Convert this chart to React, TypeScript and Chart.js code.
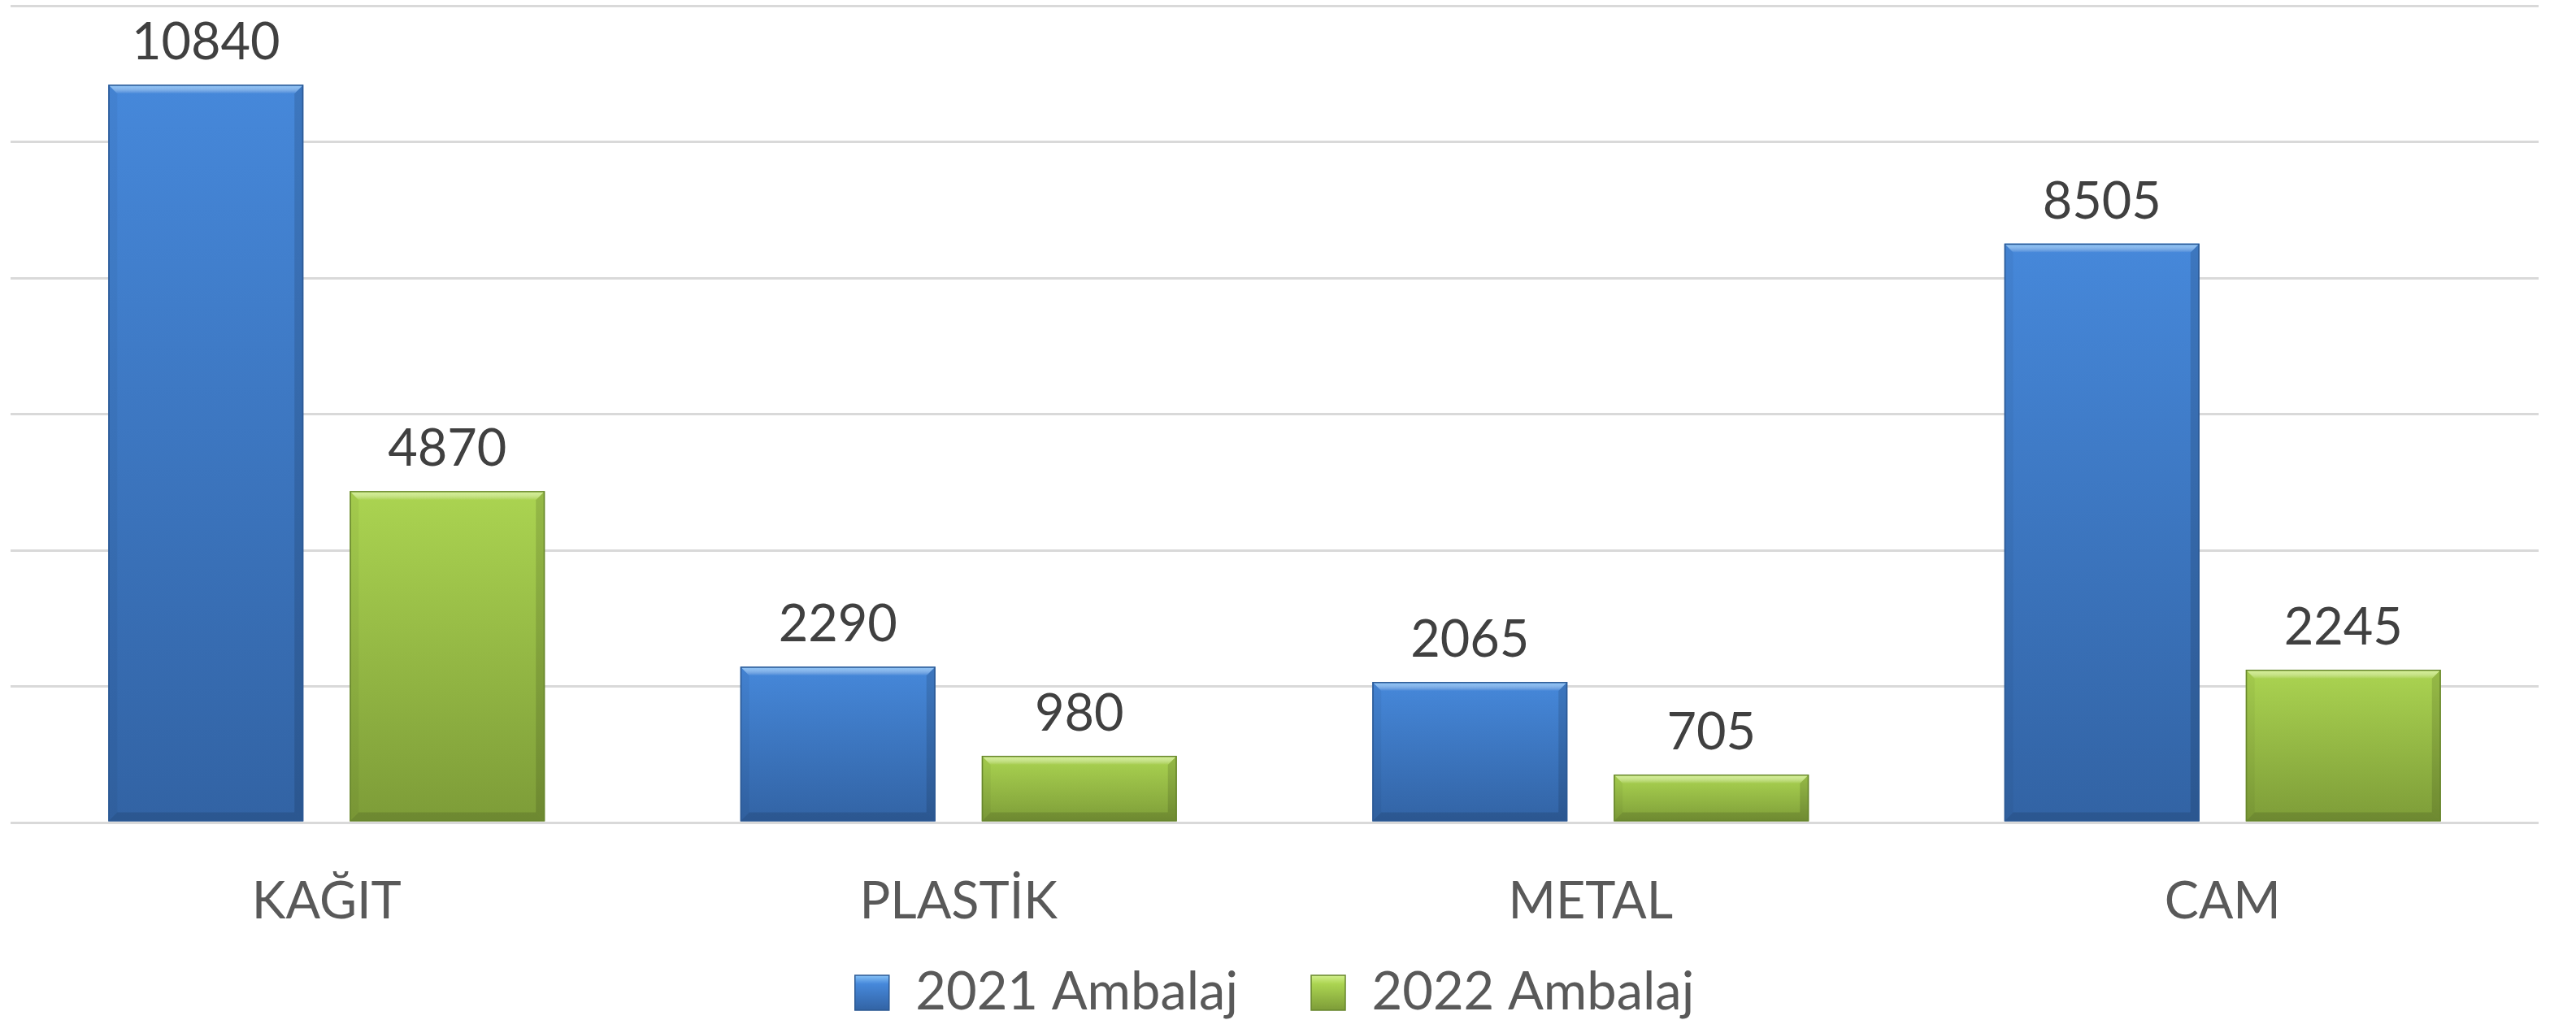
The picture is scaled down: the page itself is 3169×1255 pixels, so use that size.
import React, { useEffect, useRef } from 'react';
import { Chart, registerables } from 'chart.js';

Chart.register(...registerables);

const categories = ['KAĞIT', 'PLASTİK', 'METAL', 'CAM'];
const series2021 = [10840, 2290, 2065, 8505];
const series2022 = [4870, 980, 705, 2245];
const seriesLabels = ['2021 Ambalaj', '2022 Ambalaj'];
const yTicks = [0, 2000, 4000, 6000, 8000, 10000, 12000];

const palettes = [
  { top: '#4688da', bottom: '#3263a4', light: '#86c2f7', edge: '#2b5893', solid: '#3d78c4' },
  { top: '#abd451', bottom: '#7d9c38', light: '#d3f08d', edge: '#67862c', solid: '#95bb45' },
];

const FONT = 'Lato';
const CANVAS_W = 3169;
const CANVAS_H = 1264;

function barFill(ctx: any) {
  const p = palettes[ctx.datasetIndex] || palettes[0];
  if (ctx.type !== 'data') return p.solid;
  const ys = ctx.chart.scales && ctx.chart.scales.y;
  if (!ys) return p.solid;
  const top = ys.getPixelForValue(ctx.raw as number);
  const base = ys.getPixelForValue(0);
  if (!isFinite(top) || !isFinite(base) || base - top < 1) return p.solid;
  const g = ctx.chart.ctx.createLinearGradient(0, top, 0, base);
  g.addColorStop(0, p.top);
  g.addColorStop(1, p.bottom);
  return g;
}

const bevelPlugin = {
  id: 'bevel',
  afterDatasetsDraw(chart: any) {
    const c = chart.ctx;
    chart.data.datasets.forEach((_: any, di: number) => {
      const meta = chart.getDatasetMeta(di);
      const p = palettes[di];
      meta.data.forEach((el: any) => {
        const { x, y, base, width } = el.getProps(['x', 'y', 'base', 'width'], true);
        const l = x - width / 2;
        const r = x + width / 2;
        const t = Math.min(y, base);
        const b = Math.max(y, base);
        const bv = Math.min(11, (b - t) / 2);
        c.save();
        const gt = c.createLinearGradient(0, t, 0, t + bv);
        gt.addColorStop(0, p.light);
        gt.addColorStop(1, 'rgba(255,255,255,0)');
        c.fillStyle = gt;
        c.beginPath();
        c.moveTo(l, t);
        c.lineTo(r, t);
        c.lineTo(r - bv, t + bv);
        c.lineTo(l + bv, t + bv);
        c.closePath();
        c.fill();
        c.fillStyle = 'rgba(0,0,0,0.04)';
        c.beginPath();
        c.moveTo(l, t);
        c.lineTo(l + bv, t + bv);
        c.lineTo(l + bv, b - bv);
        c.lineTo(l, b);
        c.closePath();
        c.fill();
        c.fillStyle = 'rgba(0,0,0,0.12)';
        c.beginPath();
        c.moveTo(r, t);
        c.lineTo(r - bv, t + bv);
        c.lineTo(r - bv, b - bv);
        c.lineTo(r, b);
        c.closePath();
        c.fill();
        c.fillStyle = 'rgba(0,0,0,0.12)';
        c.beginPath();
        c.moveTo(l, b);
        c.lineTo(l + bv, b - bv);
        c.lineTo(r - bv, b - bv);
        c.lineTo(r, b);
        c.closePath();
        c.fill();
        c.strokeStyle = p.edge;
        c.lineWidth = 1.5;
        c.strokeRect(l + 0.75, t + 0.75, width - 1.5, b - t - 1.5);
        c.restore();
      });
    });
  },
};

const valueLabelPlugin = {
  id: 'valueLabels',
  afterDatasetsDraw(chart: any) {
    const c = chart.ctx;
    c.save();
    c.font = `63px ${FONT}`;
    c.fillStyle = '#404040';
    c.textAlign = 'center';
    c.textBaseline = 'alphabetic';
    chart.data.datasets.forEach((ds: any, di: number) => {
      const meta = chart.getDatasetMeta(di);
      meta.data.forEach((el: any, i: number) => {
        const { x, y } = el.getProps(['x', 'y'], true);
        c.fillText(String(ds.data[i]), x, y - 31);
      });
    });
    c.restore();
  },
};

const legendGradientPlugin = {
  id: 'legendGradient',
  beforeDraw(chart: any) {
    const lg = chart.legend;
    if (!lg || !lg.legendItems || !lg.legendHitBoxes) return;
    lg.legendItems.forEach((item: any, i: number) => {
      const hb = lg.legendHitBoxes[i];
      const p = palettes[i];
      if (!hb || !p) return;
      const g = chart.ctx.createLinearGradient(0, hb.top + 11, 0, hb.top + 54);
      g.addColorStop(0, p.light);
      g.addColorStop(0.25, p.top);
      g.addColorStop(1, p.bottom);
      item.fillStyle = g;
      item.strokeStyle = p.edge;
      item.lineWidth = 1.5;
    });
  },
};

export default function App() {
  const ref = useRef<HTMLCanvasElement | null>(null);

  useEffect(() => {
    document.body.style.margin = '0';
    document.body.style.overflow = 'hidden';
    document.documentElement.style.overflow = 'hidden';
    const canvas = ref.current;
    if (!canvas) return;
    const chart = new Chart(canvas, {
      type: 'bar',
      data: {
        labels: categories,
        datasets: [
          {
            label: seriesLabels[0],
            data: series2021,
            backgroundColor: barFill as any,
            borderWidth: 0,
            categoryPercentage: 0.764,
            barPercentage: 0.808,
          },
          {
            label: seriesLabels[1],
            data: series2022,
            backgroundColor: barFill as any,
            borderWidth: 0,
            categoryPercentage: 0.764,
            barPercentage: 0.808,
          },
        ],
      },
      options: {
        responsive: false,
        animation: false,
        devicePixelRatio: 1,
        layout: { padding: { left: 13, right: 46, top: 7, bottom: 0 } },
        plugins: {
          tooltip: { enabled: false },
          legend: {
            position: 'bottom',
            labels: {
              font: { family: FONT, size: 65 },
              color: '#595959',
              boxWidth: 42,
              boxHeight: 43,
              padding: 90,
            },
          },
        },
        scales: {
          x: {
            grid: { display: false },
            border: { display: false },
            ticks: {
              font: { family: FONT, size: 63 },
              color: '#595959',
              mirror: true,
              padding: -135,
            },
            afterFit: (s: any) => {
              s.height = 87;
            },
          },
          y: {
            min: yTicks[0],
            max: yTicks[yTicks.length - 1],
            ticks: { stepSize: yTicks[1] - yTicks[0], display: false },
            grid: { color: '#d9d9d9', lineWidth: 3, drawTicks: false },
            border: { display: false },
          },
        },
      },
      plugins: [bevelPlugin, valueLabelPlugin, legendGradientPlugin],
    });
    return () => chart.destroy();
  }, []);

  return (
    <div style={{ position: 'absolute', left: 0, top: 0, width: CANVAS_W, height: CANVAS_H, background: '#ffffff' }}>
      <canvas ref={ref} width={CANVAS_W} height={CANVAS_H} />
    </div>
  );
}
